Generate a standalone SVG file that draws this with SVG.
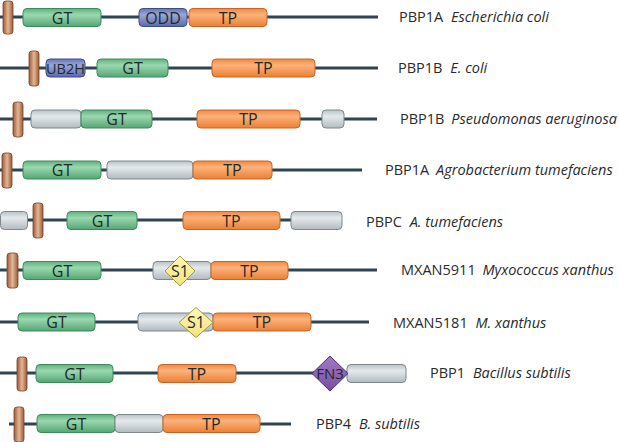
<svg xmlns="http://www.w3.org/2000/svg" width="619" height="442" viewBox="0 0 619 442">
<defs>
<linearGradient id="gG" x1="0" y1="0" x2="0" y2="1"><stop offset="0" stop-color="#5fb07e"/><stop offset="0.35" stop-color="#9ad8b0"/><stop offset="1" stop-color="#55a673"/></linearGradient>
<linearGradient id="gO" x1="0" y1="0" x2="0" y2="1"><stop offset="0" stop-color="#f08a3e"/><stop offset="0.35" stop-color="#fbb27c"/><stop offset="1" stop-color="#ec7f32"/></linearGradient>
<linearGradient id="gB" x1="0" y1="0" x2="0" y2="1"><stop offset="0" stop-color="#6676b8"/><stop offset="0.35" stop-color="#9aa7d8"/><stop offset="1" stop-color="#5a69ac"/></linearGradient>
<linearGradient id="gY" x1="0" y1="0" x2="0" y2="1"><stop offset="0" stop-color="#b9c2c7"/><stop offset="0.35" stop-color="#e4e9ec"/><stop offset="1" stop-color="#b2bbc0"/></linearGradient>
<linearGradient id="gT" x1="0" y1="0" x2="1" y2="0"><stop offset="0" stop-color="#9a5a3a"/><stop offset="0.5" stop-color="#e3b795"/><stop offset="1" stop-color="#9a5a3a"/></linearGradient>
<linearGradient id="gS" x1="0" y1="0" x2="0" y2="1"><stop offset="0" stop-color="#fff7b8"/><stop offset="1" stop-color="#f2e27c"/></linearGradient>
<linearGradient id="gF" x1="0" y1="0" x2="0" y2="1"><stop offset="0" stop-color="#a07ac4"/><stop offset="1" stop-color="#7a4ea2"/></linearGradient>
</defs>
<style>
.ln{stroke:#2f4650;stroke-width:3.2;fill:none}
.gt{fill:url(#gG);stroke:#3f8a5c;stroke-width:1}
.tp{fill:url(#gO);stroke:#c8642a;stroke-width:1}
.bl{fill:url(#gB);stroke:#3e4a8a;stroke-width:1}
.gy{fill:url(#gY);stroke:#7d878c;stroke-width:1}
.tm{fill:url(#gT);stroke:#7a4228;stroke-width:0.8}
.s1{fill:url(#gS);stroke:#a89a40;stroke-width:1}
.fn{fill:url(#gF);stroke:#4f2f74;stroke-width:1}
.bt{font-family:"Open Sans","Liberation Sans",sans-serif;font-size:16px;fill:#1e2a28;text-anchor:middle}
text.ub{font-size:14.5px}
text.f3{font-size:15px}
.lb{font-family:"Open Sans","Liberation Sans",sans-serif;font-size:14.5px;fill:#2a2a2a}
.sp{font-style:italic}
</style>
<g id="connectors">
<line class="ln" x1="0" y1="17" x2="378" y2="17"/>
<line class="ln" x1="0" y1="68" x2="378" y2="68"/>
<line class="ln" x1="0" y1="119" x2="377" y2="119"/>
<line class="ln" x1="0" y1="170" x2="362" y2="170"/>
<line class="ln" x1="10" y1="220" x2="292" y2="220"/>
<line class="ln" x1="0" y1="270" x2="377" y2="270"/>
<line class="ln" x1="0" y1="322" x2="369" y2="322"/>
<line class="ln" x1="0" y1="373" x2="348" y2="373"/>
<line class="ln" x1="9" y1="424" x2="291" y2="424"/>
</g>
<g id="row1">
<rect class="gt" x="23" y="8.5" width="78" height="18" rx="4"/><text class="bt" x="62" y="23.5">GT</text>
<rect class="bl" x="139" y="8.5" width="48" height="18" rx="4"/><text class="bt" x="163" y="23.5">ODD</text>
<rect class="tp" x="189" y="8.5" width="78" height="18" rx="4"/><text class="bt" x="228" y="23.5">TP</text>
<rect class="tm" x="3" y="1" width="10" height="33" rx="3"/>
<text class="lb" x="399" y="22">PBP1A <tspan class="sp" dx="4">Escherichia coli</tspan></text>
</g>
<g id="row2">
<rect class="bl" x="46" y="59" width="39" height="18" rx="4"/><text class="bt ub" x="65.5" y="73.5">UB2H</text>
<rect class="gt" x="97" y="59" width="71" height="18" rx="4"/><text class="bt" x="132.5" y="74">GT</text>
<rect class="tp" x="212" y="59" width="103" height="18" rx="4"/><text class="bt" x="263.5" y="74">TP</text>
<rect class="tm" x="29" y="51" width="10" height="35" rx="3"/>
<text class="lb" x="398" y="73">PBP1B <tspan class="sp" dx="4">E. coli</tspan></text>
</g>
<g id="row3">
<rect class="gy" x="31" y="110" width="50" height="18" rx="4"/>
<rect class="gt" x="81" y="110" width="71" height="18" rx="4"/><text class="bt" x="116.5" y="125">GT</text>
<rect class="tp" x="197" y="110" width="103" height="18" rx="4"/><text class="bt" x="248.5" y="125">TP</text>
<rect class="gy" x="322" y="110" width="22" height="18" rx="4"/>
<rect class="tm" x="13" y="102" width="10" height="35" rx="3"/>
<text class="lb" x="400" y="124">PBP1B <tspan class="sp" dx="3">Pseudomonas aeruginosa</tspan></text>
</g>
<g id="row4">
<rect class="gt" x="23" y="161" width="78" height="18" rx="4"/><text class="bt" x="62" y="176">GT</text>
<rect class="gy" x="107" y="161" width="86" height="18" rx="4"/>
<rect class="tp" x="193" y="161" width="79" height="18" rx="4"/><text class="bt" x="232.5" y="176">TP</text>
<rect class="tm" x="2" y="153" width="10" height="35" rx="3"/>
<text class="lb" x="385" y="175">PBP1A <tspan class="sp" dx="3">Agrobacterium tumefaciens</tspan></text>
</g>
<g id="row5">
<rect class="gy" x="0.5" y="211.5" width="27" height="18" rx="4"/>
<rect class="gt" x="67" y="211.5" width="70" height="18" rx="4"/><text class="bt" x="102" y="226.5">GT</text>
<rect class="tp" x="183" y="211.5" width="97" height="18" rx="4"/><text class="bt" x="231.5" y="226.5">TP</text>
<rect class="gy" x="291" y="211.5" width="51" height="18" rx="4"/>
<rect class="tm" x="33" y="203" width="10" height="35" rx="3"/>
<text class="lb" x="366" y="227">PBPC <tspan class="sp" dx="4">A. tumefaciens</tspan></text>
</g>
<g id="row6">
<rect class="gt" x="23" y="261.5" width="78" height="18" rx="4"/><text class="bt" x="62" y="276.5">GT</text>
<rect class="gy" x="153" y="261.5" width="58" height="18" rx="4"/>
<rect class="tp" x="211" y="261.5" width="77" height="18" rx="4"/><text class="bt" x="249.5" y="276.5">TP</text>
<polygon class="s1" points="180,256 195,271 180,286 165,271"/><text class="bt" x="180" y="276.5">S1</text>
<rect class="tm" x="7" y="253" width="11" height="35" rx="3"/>
<text class="lb" x="401" y="275">MXAN5911 <tspan class="sp" dx="3">Myxococcus xanthus</tspan></text>
</g>
<g id="row7">
<rect class="gt" x="18" y="313" width="77" height="18" rx="4"/><text class="bt" x="56.5" y="328">GT</text>
<rect class="gy" x="138" y="313" width="75" height="18" rx="4"/>
<rect class="tp" x="213" y="313" width="98" height="18" rx="4"/><text class="bt" x="262" y="328">TP</text>
<polygon class="s1" points="196,307.5 213,322.5 196,337.5 179,322.5"/><text class="bt" x="196" y="328">S1</text>
<text class="lb" x="393" y="328">MXAN5181 <tspan class="sp" dx="4">M. xanthus</tspan></text>
</g>
<g id="row8">
<rect class="gt" x="36" y="364.5" width="77" height="18" rx="4"/><text class="bt" x="74.5" y="379.5">GT</text>
<rect class="tp" x="158" y="364.5" width="78" height="18" rx="4"/><text class="bt" x="197" y="379.5">TP</text>
<rect class="gy" x="347" y="364.5" width="59" height="18" rx="4"/>
<polygon class="fn" points="330,356 348,373.5 330,391 312,373.5"/><text class="bt f3" x="330" y="379">FN3</text>
<rect class="tm" x="17" y="357" width="10" height="34" rx="3"/>
<text class="lb" x="430" y="378">PBP1 <tspan class="sp" dx="4">Bacillus subtilis</tspan></text>
</g>
<g id="row9">
<rect class="gt" x="37" y="414.5" width="78" height="18" rx="4"/><text class="bt" x="76" y="429.5">GT</text>
<rect class="gy" x="115" y="414.5" width="48" height="18" rx="4"/>
<rect class="tp" x="163" y="414.5" width="97" height="18" rx="4"/><text class="bt" x="211.5" y="429.5">TP</text>
<rect class="tm" x="14" y="407" width="10" height="35" rx="3"/>
<text class="lb" x="316" y="429">PBP4 <tspan class="sp" dx="4">B. subtilis</tspan></text>
</g>
</svg>
